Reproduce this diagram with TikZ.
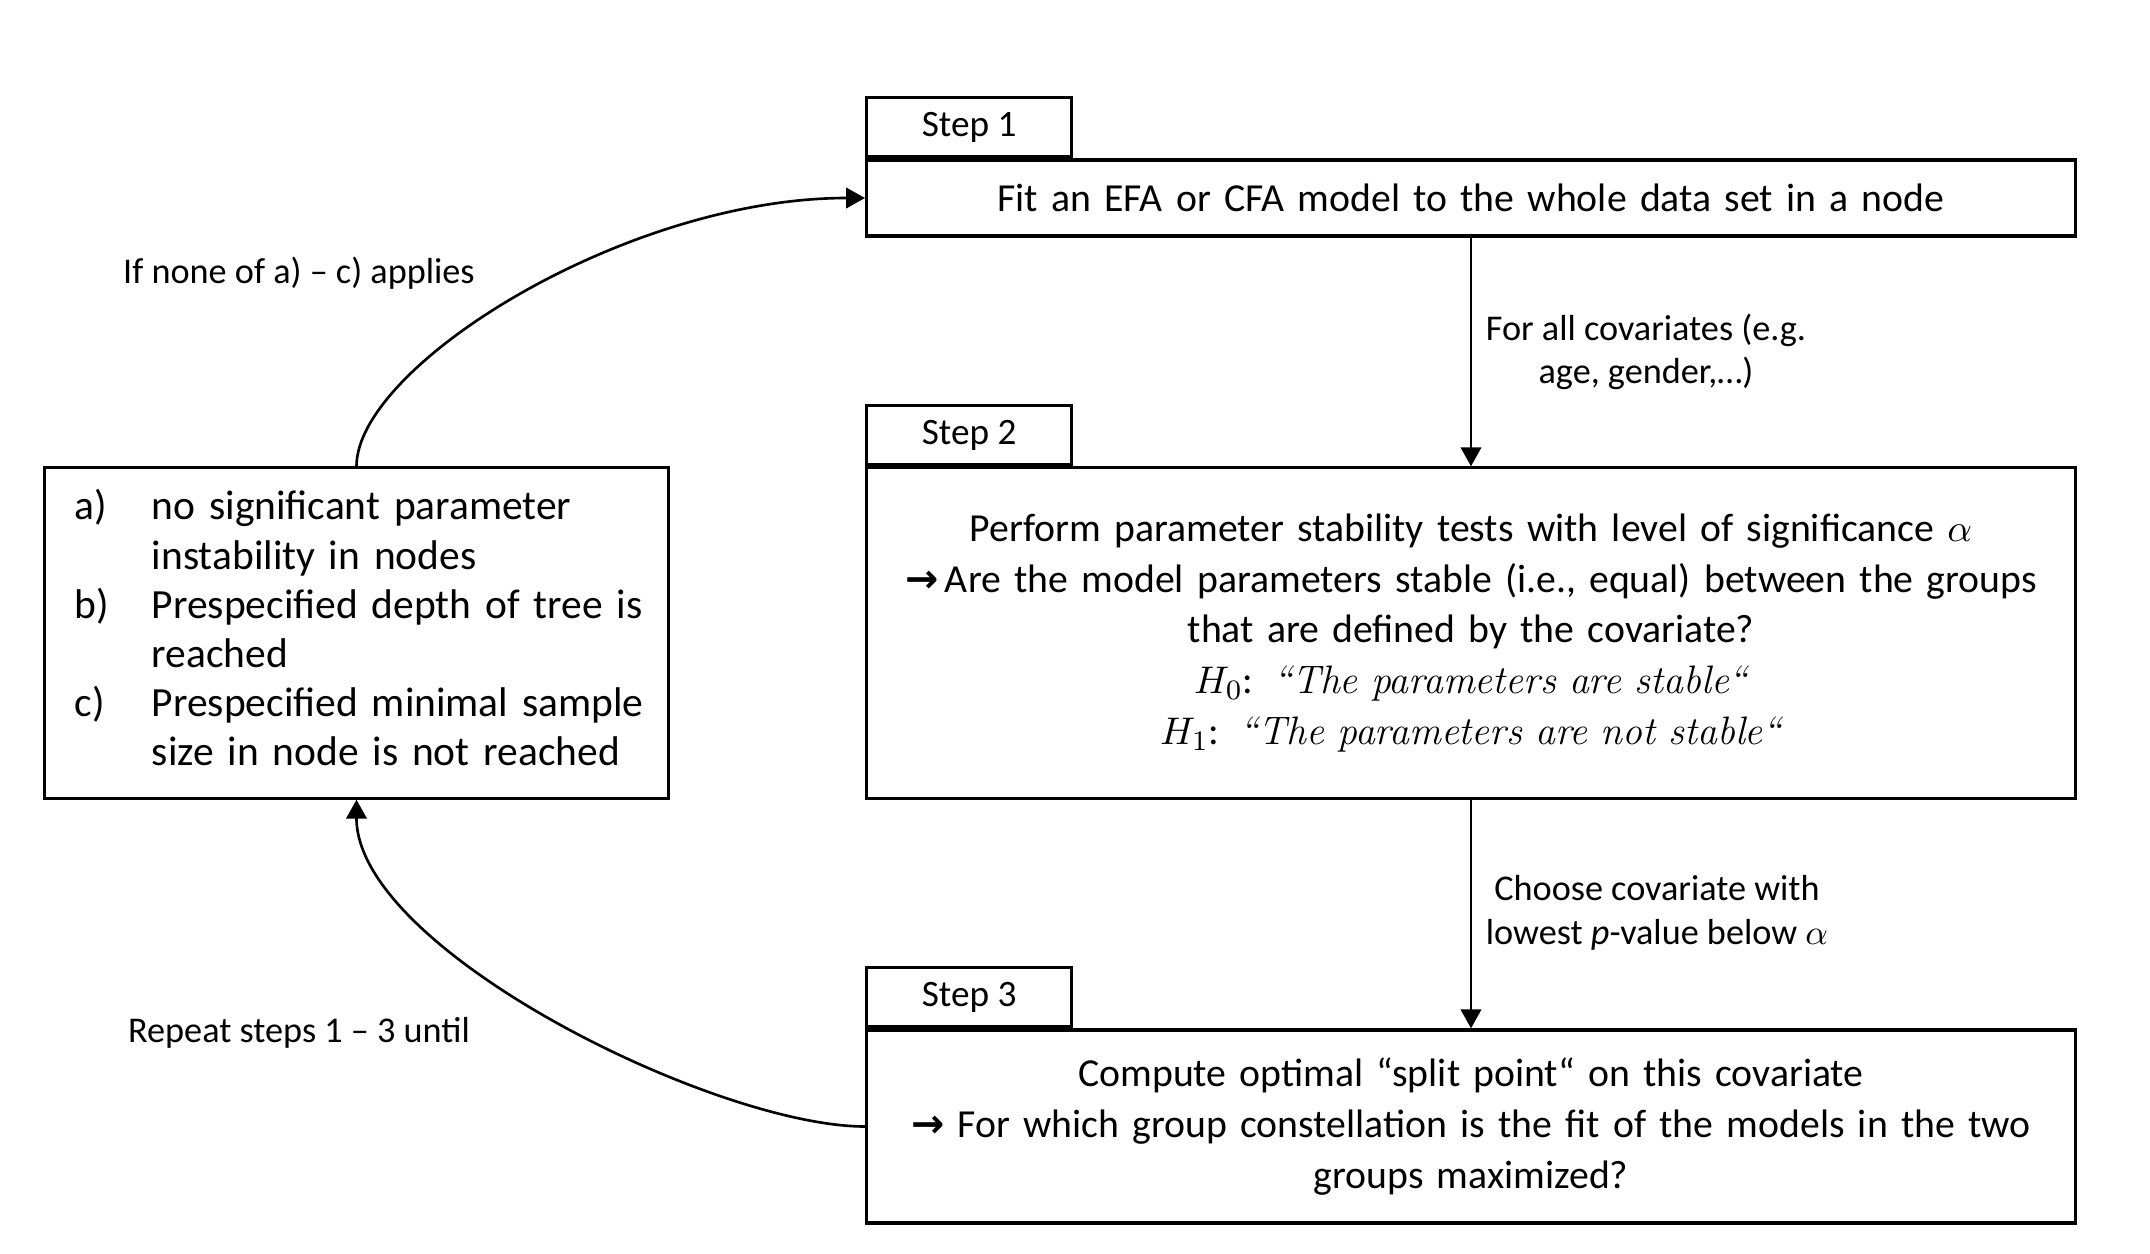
\documentclass[tikz,border=0pt]{standalone}
\usepackage{fontspec}
\newfontfamily\calib{Carlito}
\newfontfamily\symfont{DejaVu Sans}
\usepackage{tikz}
\usetikzlibrary{arrows.meta}

\newcommand{\bigarrow}{{\symfont\bfseries →}}

\tikzset{
  stepbox/.style={draw, line width=0.9pt, inner sep=0pt, text width=12.08cm,
    align=center, font=\calib\fontsize{11.3}{14.4}\selectfont},
  steptab/.style={draw, line width=0.9pt, inner sep=0pt, minimum width=2.05cm,
    minimum height=0.59cm, anchor=south west, font=\calib\fontsize{10.6}{13}\selectfont},
  flow/.style={line width=0.75pt, -{Triangle[length=5.4pt,width=5.8pt]}},
  note/.style={align=center, font=\calib\fontsize{10.3}{12.4}\selectfont}
}

\begin{document}
\begin{tikzpicture}[x=0.01cm, y=-0.01cm]
  \useasboundingbox (0,0) rectangle (2150,1254);

  \node[stepbox, minimum height=0.76cm] (fit) at (1471,198)
    {Fit an EFA or CFA model to the whole data set in a node};
  \node[steptab] (tab1) at (fit.north west) {Step 1};

  \node[stepbox, minimum height=3.30cm] (test) at (1471,633)
    {Perform parameter stability tests with level of significance $\alpha$\\
     \bigarrow\,Are the model parameters stable (i.e., equal) between the groups\\
     that are defined by the covariate?\\
     $H_0$: {\rmfamily\itshape “The parameters are stable“}\\
     $H_1$: {\rmfamily\itshape “The parameters are not stable“}};
  \node[steptab] (tab2) at (test.north west) {Step 2};

  \node[stepbox, minimum height=1.93cm] (split) at (1471,1126.5)
    {Compute optimal “split point“ on this covariate\\
     \bigarrow\ For which group constellation is the fit of the models in the two\\
     groups maximized?};
  \node[steptab] (tab3) at (split.north west) {Step 3};

  \node[draw, line width=0.9pt, inner xsep=0.3cm, inner ysep=0pt, text width=5.63cm,
    minimum height=3.30cm, align=left, font=\calib\fontsize{11.8}{14}\selectfont] (stop) at (356.5,633)
    {\begin{tabular}{@{}p{0.77cm}@{}l@{}}
      a) & no significant parameter\\
         & instability in nodes\\
      b) & Prespecified depth of tree is\\
         & reached\\
      c) & Prespecified minimal sample\\
         & size in node is not reached
     \end{tabular}};

  \draw[flow] (fit) -- (test);
  \draw[flow] (test) -- (split);
  \draw[flow] (split.west) to[out=180, in=-90, out distance=1.5cm, in distance=1.5cm] (stop.south);
  \draw[flow] (stop.north) to[out=90, in=180, out distance=1.0cm, in distance=2.4cm] (fit.west);

  \node[note] (cov) at (1646,352) {For all covariates (e.g.\\ age, gender,\dots)};
  \node[note] (choose) at (1657,913) {Choose covariate with\\ lowest \textit{p}-value below $\alpha$};
  \node[note] (none) at (299,273) {If none of a) – c) applies};
  \node[note] (repeat) at (299,1033) {Repeat steps 1 – 3 until};
\end{tikzpicture}
\end{document}
